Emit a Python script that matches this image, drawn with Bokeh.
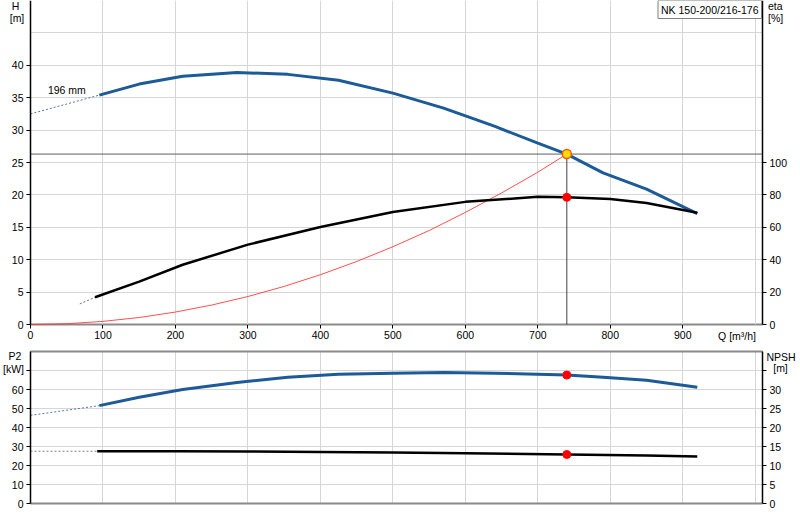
from bokeh.plotting import figure
from bokeh.models import Range1d, LinearAxis, FixedTicker, Label
from bokeh.layouts import column
from bokeh.embed import file_html
from bokeh.resources import INLINE

# ---------------- data ----------------
q_ticks = [0, 100, 200, 300, 400, 500, 600, 700, 800, 900]
q_grid = [100, 200, 300, 400, 500, 600, 700, 800, 900, 1000]
h_ticks = [0, 5, 10, 15, 20, 25, 30, 35, 40]
h_grid = [5, 10, 15, 20, 25, 30, 35, 40, 45]
eta_ticks = [0, 20, 40, 60, 80, 100]
p2_ticks = [0, 10, 20, 30, 40, 50, 60, 70]
p2_grid = [10, 20, 30, 40, 50, 60, 70]
npsh_ticks = [0, 5, 10, 15, 20, 25, 30, 35]

head_q = [95, 150, 210, 285, 355, 425, 500, 570, 640, 700, 740, 790, 850, 920]
head_h = [35.4, 37.1, 38.3, 38.9, 38.6, 37.7, 35.7, 33.4, 30.6, 28.0, 26.3, 23.4, 20.9, 17.1]
head_ext_q = [0, 95]
head_ext_h = [32.5, 35.4]

eta_q = [89, 150, 210, 300, 400, 500, 600, 700, 740, 800, 850, 920]
eta_v = [16.8, 26.5, 36.9, 49.3, 60.2, 69.5, 75.7, 78.8, 78.5, 77.5, 75.0, 69.0]
eta_ext_q = [68, 89]
eta_ext_v = [12.7, 16.8]

sys_q = [0, 50, 100, 150, 200, 250, 300, 350, 400, 450, 500, 550, 600, 650, 700, 740]
sys_h = [0, 0.12, 0.48, 1.08, 1.92, 3.0, 4.32, 5.88, 7.68, 9.72, 12.0, 14.5, 17.3, 20.3, 23.5, 26.3]

p2_q = [95, 150, 210, 285, 355, 425, 500, 570, 640, 740, 790, 850, 920]
p2_v = [51.5, 55.9, 60.0, 63.7, 66.4, 68.0, 68.6, 68.9, 68.6, 67.6, 66.5, 64.9, 61.2]
p2_ext_q = [0, 95]
p2_ext_v = [46.4, 51.5]

npsh_q = [92, 200, 300, 400, 500, 600, 740, 850, 920]
npsh_v = [13.75, 13.75, 13.7, 13.55, 13.4, 13.2, 12.9, 12.6, 12.35]
npsh_ext_q = [0, 92]
npsh_ext_v = [13.75, 13.75]

duty_q = 740
duty_h = 26.3
duty_eta = 78.5
duty_p2 = 67.6
duty_npsh = 12.9

q_max = 1010
h_max = 50
eta_max = 200
p2_max = 80
npsh_max = 40

curve_name = "NK 150-200/216-176"
impeller = "196 mm"

# ---------------- layout geometry (pixels) ----------------
W = 800
PAD_L, PAD_R = 30, 38          # space left / right of the data area
TOP_H, TOP_PAD_B = 344, 20     # top figure height, space below its data area
BOT_H, BOT_PAD_T, BOT_PAD_B = 176, 7, 17

upx = q_max / (W - PAD_L - PAD_R)          # Q units per pixel
x_lo, x_hi = -PAD_L * upx, q_max + PAD_R * upx

top_ppu = (TOP_H - TOP_PAD_B) / h_max      # pixels per m of head
h_lo = -TOP_PAD_B / top_ppu
bot_ppu = (BOT_H - BOT_PAD_T - BOT_PAD_B) / p2_max
p2_lo, p2_hi = -BOT_PAD_B / bot_ppu, p2_max + BOT_PAD_T / bot_ppu

# ---------------- style ----------------
FONT = "Liberation Sans"
FS = "10.5px"
BLUE = "#1d5a98"
GRID = "#d6d6d6"
AXGRAY = "#8a8a8a"


def style_axis(ax, line_color="black", line_width=1.5):
    ax.axis_line_color = line_color
    ax.axis_line_width = line_width
    ax.major_tick_line_color = "black"
    ax.major_tick_out = 4
    ax.major_tick_in = 0
    ax.minor_tick_line_color = None
    ax.major_label_text_font = FONT
    ax.major_label_text_font_size = FS
    ax.major_label_text_color = "black"
    ax.major_label_standoff = 3


def txt(p, x, y, text, align="center", baseline="middle", size=FS, **kw):
    p.add_layout(Label(x=x, y=y, text=text, text_align=align, text_baseline=baseline,
                       text_font=FONT, text_font_size=size, text_color="black", **kw))


def base_fig(height, y_lo, y_hi):
    p = figure(width=W, height=height, x_range=Range1d(x_lo, x_hi), y_range=Range1d(y_lo, y_hi),
               output_backend="svg", toolbar_location=None,
               min_border_left=0, min_border_right=0, min_border_top=0, min_border_bottom=0)
    p.outline_line_color = None
    return p


# ---------------- top figure ----------------
p1 = base_fig(TOP_H, h_lo, h_max)
p1.extra_y_ranges = {"eta": Range1d(h_lo * eta_max / h_max, eta_max)}

xa = p1.xaxis[0]
xa.ticker = FixedTicker(ticks=q_ticks)
xa.fixed_location = 0
xa.bounds = (0, q_max)
style_axis(xa, line_color=AXGRAY, line_width=2)
xa.major_label_standoff = 2
xa.level = "underlay"

ya = p1.yaxis[0]
ya.ticker = FixedTicker(ticks=h_ticks)
ya.fixed_location = 0
ya.bounds = (0, h_max)
style_axis(ya)

eta_axis = LinearAxis(y_range_name="eta", ticker=FixedTicker(ticks=eta_ticks),
                      fixed_location=q_max, bounds=(0, eta_max))
style_axis(eta_axis)
p1.add_layout(eta_axis, "right")

p1.xgrid.ticker = FixedTicker(ticks=q_grid)
p1.ygrid.ticker = FixedTicker(ticks=h_grid)
p1.xgrid.cross_bounds = (0, h_max)
p1.ygrid.cross_bounds = (0, q_max)
for g in (p1.xgrid[0], p1.ygrid[0]):
    g.grid_line_color = GRID
    g.grid_line_width = 1

# duty lines
p1.segment(x0=[0], y0=[duty_h], x1=[q_max], y1=[duty_h], line_color="#606060", line_width=1)
p1.segment(x0=[duty_q], y0=[0], x1=[duty_q], y1=[duty_h], line_color="#404040", line_width=1)

# system curve
p1.line(sys_q, sys_h, line_color="#ff3030", line_width=1, line_alpha=0.85)

# head curve
p1.line(head_ext_q, head_ext_h, line_color="#5a74a0", line_width=1, line_dash="2 2")
p1.line(head_q, head_h, line_color=BLUE, line_width=3)

# efficiency
p1.line(eta_ext_q, eta_ext_v, y_range_name="eta", line_color="#707070", line_width=1, line_dash="2 2")
p1.line(eta_q, eta_v, y_range_name="eta", line_color="black", line_width=2.5)

# markers
p1.scatter([duty_q], [duty_eta], y_range_name="eta", size=8, fill_color="#ff0000", line_color="#ff0000")
p1.scatter([duty_q], [duty_h], size=9, fill_color="#ffdd00", line_color="#ff5a00", line_width=1.5)

# texts
txt(p1, 24, h_max - 89 / top_ppu, impeller, align="left")
txt(p1, -15 * upx, h_max - 5.5 / top_ppu, "H")
txt(p1, -13.5 * upx, h_max - 17.5 / top_ppu, "[m]")
txt(p1, q_max + 5.5 * upx, h_max - 5.5 / top_ppu, "eta", align="left")
txt(p1, q_max + 5.5 * upx, h_max - 17.5 / top_ppu, "[%]", align="left")
txt(p1, 1001, -11 / top_ppu, "Q [m³/h]", align="right")
p1.add_layout(Label(x=q_max, y=h_max, text=curve_name, text_align="right", text_baseline="top",
                    text_font=FONT, text_font_size=FS, text_color="black",
                    x_offset=-1, y_offset=0,
                    border_line_color="#808080", border_line_width=1,
                    background_fill_color="white", padding=3))

# ---------------- bottom figure ----------------
p2 = base_fig(BOT_H, p2_lo, p2_hi)
p2.extra_y_ranges = {"npsh": Range1d(p2_lo * npsh_max / p2_max, p2_hi * npsh_max / p2_max)}

bx = p2.xaxis[0]
bx.ticker = FixedTicker(ticks=[])
bx.fixed_location = 0
bx.bounds = (0, q_max)
style_axis(bx, line_color=AXGRAY, line_width=2)
top_border = LinearAxis(ticker=FixedTicker(ticks=[]), fixed_location=p2_max, bounds=(0, q_max))
style_axis(top_border, line_color=AXGRAY, line_width=2)
p2.add_layout(top_border, "above")

by = p2.yaxis[0]
by.ticker = FixedTicker(ticks=p2_ticks)
by.major_label_overrides = {70: ""}
by.fixed_location = 0
by.bounds = (0, p2_max)
style_axis(by)

npsh_axis = LinearAxis(y_range_name="npsh", ticker=FixedTicker(ticks=npsh_ticks),
                       major_label_overrides={35: ""}, fixed_location=q_max, bounds=(0, npsh_max))
style_axis(npsh_axis)
p2.add_layout(npsh_axis, "right")

p2.xgrid.ticker = FixedTicker(ticks=q_grid)
p2.ygrid.ticker = FixedTicker(ticks=p2_grid)
p2.xgrid.cross_bounds = (0, p2_max)
p2.ygrid.cross_bounds = (0, q_max)
for g in (p2.xgrid[0], p2.ygrid[0]):
    g.grid_line_color = GRID
    g.grid_line_width = 1

p2.line(p2_ext_q, p2_ext_v, line_color="#5a74a0", line_width=1, line_dash="2 2")
p2.line(p2_q, p2_v, line_color=BLUE, line_width=3)
p2.line(npsh_ext_q, npsh_ext_v, y_range_name="npsh", line_color="#808080", line_width=1, line_dash="2 2")
p2.line(npsh_q, npsh_v, y_range_name="npsh", line_color="black", line_width=2.5)
p2.scatter([duty_q], [duty_p2], size=8, fill_color="#ff0000", line_color="#ff0000")
p2.scatter([duty_q], [duty_npsh], y_range_name="npsh", size=8, fill_color="#ff0000", line_color="#ff0000")

txt(p2, -15.5 * upx, p2_max - 4.5 / bot_ppu, "P2")
txt(p2, -17 * upx, p2_max - 17 / bot_ppu, "[kW]")
txt(p2, q_max + 4 * upx, p2_max - 5 / bot_ppu, "NPSH", align="left")
txt(p2, q_max + 18 * upx, p2_max - 16.5 / bot_ppu, "[m]")

layout = column(p1, p2)
open("out.html", "w").write(file_html(layout, INLINE))
